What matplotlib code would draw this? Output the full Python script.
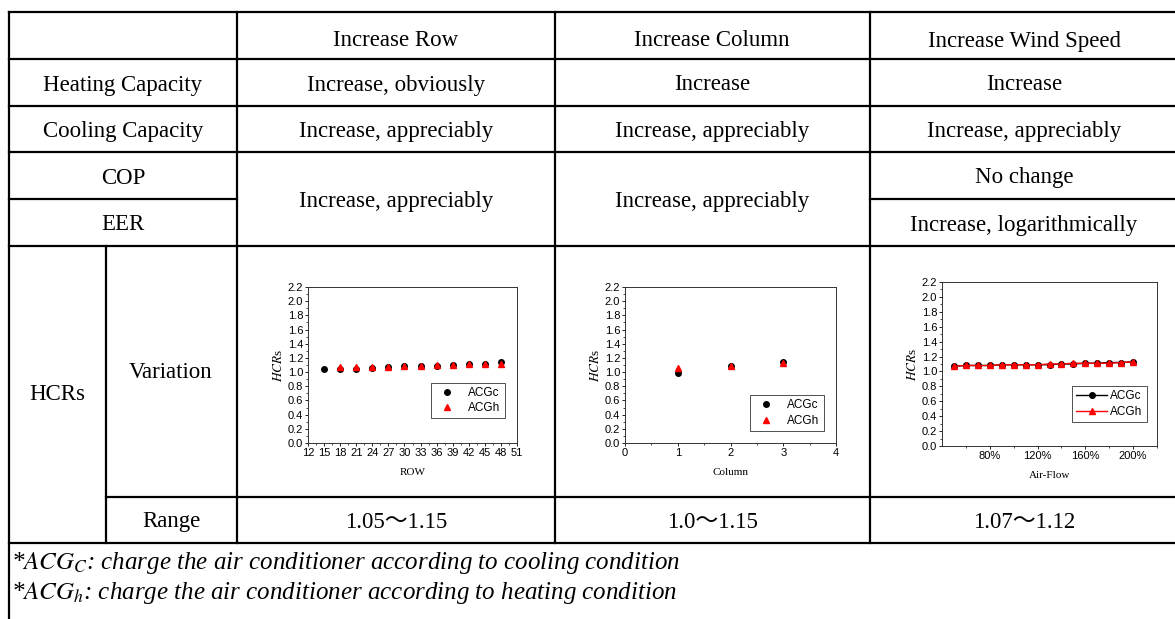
import numpy as np
import matplotlib.pyplot as plt
from matplotlib.ticker import MultipleLocator, FixedLocator

plt.rcParams['mathtext.fontset'] = 'stix'

# ---- data ----
col_heads = ['Increase Row', 'Increase Column', 'Increase Wind Speed']
row_heads = ['Heating Capacity', 'Cooling Capacity', 'COP', 'EER']
heating = ['Increase, obviously', 'Increase', 'Increase']
cooling = ['Increase, appreciably', 'Increase, appreciably', 'Increase, appreciably']
cop_eer = ['Increase, appreciably', 'Increase, appreciably']
cop_wind = 'No change'
eer_wind = 'Increase, logarithmically'
ranges = ['1.05\uff5e1.15', '1.0\uff5e1.15', '1.07\uff5e1.12']

row_x = [15, 18, 21, 24, 27, 30, 33, 36, 39, 42, 45, 48]
row_c = [1.04, 1.04, 1.05, 1.06, 1.07, 1.08, 1.09, 1.09, 1.10, 1.11, 1.12, 1.14]
row_xh = [18, 21, 24, 27, 30, 33, 36, 39, 42, 45, 48]
row_h = [1.07, 1.07, 1.07, 1.07, 1.08, 1.09, 1.10, 1.10, 1.11, 1.11, 1.12]

col_x = [1, 2, 3]
col_c = [0.99, 1.09, 1.14]
col_h = [1.06, 1.09, 1.13]

air_x = [50, 60, 70, 80, 90, 100, 110, 120, 130, 140, 150, 160, 170, 180, 190, 200]
air_c = [1.07, 1.08, 1.08, 1.08, 1.09, 1.09, 1.09, 1.09, 1.09, 1.10, 1.10, 1.11, 1.11, 1.12, 1.12, 1.13]
air_h = [1.07, 1.08, 1.08, 1.08, 1.09, 1.09, 1.09, 1.09, 1.10, 1.10, 1.11, 1.11, 1.11, 1.11, 1.12, 1.13]

W, H = 1175, 619
fig = plt.figure(figsize=(W / 100, H / 100), dpi=100)
bg = fig.add_axes([0, 0, 1, 1])
bg.set_xlim(0, W)
bg.set_ylim(H, 0)
bg.axis('off')

serif = ['Liberation Serif', 'Noto Sans CJK SC']
fs = 16.5
lw = 1.6

# table lines
for y in [12, 59, 106, 152, 246, 543]:
    bg.plot([9, W], [y, y], color='k', lw=lw)
bg.plot([9, 237], [199, 199], color='k', lw=lw)
bg.plot([870, W], [199, 199], color='k', lw=lw)
bg.plot([106, W], [497, 497], color='k', lw=lw)
bg.plot([9, 9], [12, H], color='k', lw=lw)
bg.plot([106, 106], [246, 543], color='k', lw=lw)
for x in [237, 555, 870]:
    bg.plot([x, x], [12, 543], color='k', lw=lw)

cx = [396, 712, 1024]

def txt(x, y, s, **kw):
    bg.text(x, y + 3, s, ha='center', va='center', fontsize=fs, family=serif, **kw)

for i in range(3):
    txt(cx[i], 38, col_heads[i])
    txt(cx[i], 82, heating[i])
    txt(cx[i], 128, cooling[i])
    txt(cx[i], 519, ranges[i])
txt(123, 82, row_heads[0])
txt(123, 128, row_heads[1])
txt(123, 175, row_heads[2])
txt(123, 222, row_heads[3])
for i in range(2):
    txt(cx[i], 198, cop_eer[i])
txt(cx[2], 175, cop_wind)
txt(cx[2], 222, eer_wind)
txt(57, 392, 'HCRs')
txt(171, 370, 'Variation')
txt(171, 519, 'Range')

bg.text(11, 563, r'*$ACG_C$: charge the air conditioner according to cooling condition',
        ha='left', va='center', fontsize=18, family=serif, style='italic')
bg.text(11, 593, r'*$ACG_h$: charge the air conditioner according to heating condition',
        ha='left', va='center', fontsize=18, family=serif, style='italic')

def box(l, t, r, b):
    return [l / W, 1 - b / H, (r - l) / W, (b - t) / H]

def style(ax, xlabel):
    ax.set_ylim(0, 2.2)
    ax.yaxis.set_major_locator(MultipleLocator(0.2))
    ax.yaxis.set_minor_locator(MultipleLocator(0.1))
    ax.tick_params(which='both', direction='out', labelsize=8, pad=1)
    ax.tick_params(which='major', length=2.5, width=0.6)
    ax.tick_params(which='minor', length=1.5, width=0.5)
    for lab in ax.get_xticklabels() + ax.get_yticklabels():
        lab.set_family('Liberation Sans')
    for s in ax.spines.values():
        s.set_linewidth(0.7)
        s.set_color('#333333')
    ax.set_ylabel(r'$HCR$s', fontsize=9.5, family='Liberation Serif', labelpad=2)
    ax.set_xlabel(xlabel, fontsize=8, family='Liberation Serif', labelpad=7)

leg_prop = {'family': 'Liberation Sans', 'size': 8.5}

# chart 1: row
a1 = fig.add_axes(box(308, 287, 517, 443))
a1.plot(row_x, row_c, 'o', color='k', ms=4, label='ACGc')
a1.plot(row_xh, row_h, '^', color='red', ms=4.5, label='ACGh')
a1.set_xlim(12, 51)
a1.xaxis.set_major_locator(MultipleLocator(3))
a1.xaxis.set_minor_locator(MultipleLocator(1.5))
style(a1, 'ROW')
a1.legend(loc='lower right', bbox_to_anchor=(0.97, 0.12), fancybox=False, edgecolor='k',
          handletextpad=0.8, borderpad=0.35, labelspacing=0.3,
          prop=leg_prop).get_frame().set_linewidth(0.6)

# chart 2: column
a2 = fig.add_axes(box(625, 287, 836, 443))
a2.plot(col_x, col_c, 'o', color='k', ms=4, label='ACGc')
a2.plot(col_x, col_h, '^', color='red', ms=4.5, label='ACGh')
a2.set_xlim(0, 4)
a2.xaxis.set_major_locator(MultipleLocator(1))
a2.xaxis.set_minor_locator(MultipleLocator(0.5))
style(a2, 'Column')
a2.legend(loc='lower right', bbox_to_anchor=(0.97, 0.04), fancybox=False, edgecolor='k',
          handletextpad=0.8, borderpad=0.35, labelspacing=0.3,
          prop=leg_prop).get_frame().set_linewidth(0.6)

# chart 3: air flow
a3 = fig.add_axes(box(942, 282, 1157, 446))
a3.plot(air_x, air_c, '-o', color='k', ms=4, lw=1, label='ACGc')
a3.plot(air_x, air_h, '-^', color='red', ms=4.5, lw=1, label='ACGh')
a3.set_xlim(40, 220)
a3.xaxis.set_major_locator(FixedLocator([80, 120, 160, 200]))
a3.xaxis.set_minor_locator(FixedLocator([60, 100, 140, 180, 220]))
a3.set_xticklabels(['80%', '120%', '160%', '200%'])
style(a3, 'Air-Flow')
a3.legend(loc='lower right', bbox_to_anchor=(0.98, 0.11), fancybox=False, edgecolor='k',
          handletextpad=0.3, handlelength=2.6, borderpad=0.35, labelspacing=0.3,
          prop=leg_prop).get_frame().set_linewidth(0.6)

plt.savefig('out.png', dpi=100)
plt.close()
